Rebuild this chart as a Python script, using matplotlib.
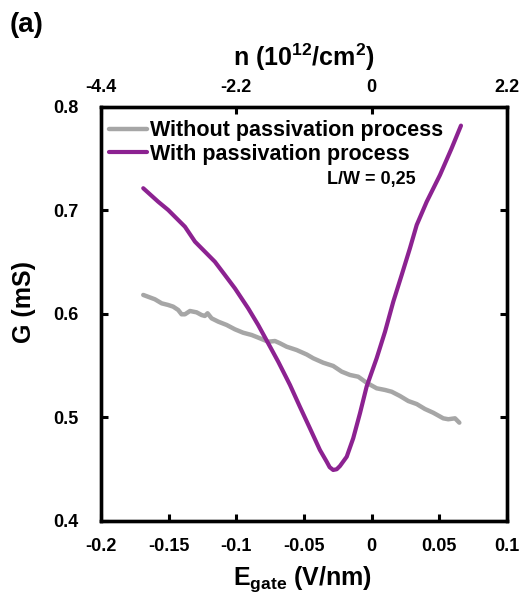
import matplotlib
matplotlib.use("Agg")
import matplotlib.pyplot as plt

plt.rcParams['font.family'] = ['Liberation Sans', 'DejaVu Sans']
plt.rcParams['font.weight'] = 'bold'
plt.rcParams['mathtext.fontset'] = 'custom'
plt.rcParams['mathtext.rm'] = 'Liberation Sans:bold'
plt.rcParams['mathtext.bf'] = 'Liberation Sans:bold'

# Conductance vs gate field, without passivation
e_without = [-0.1687, -0.1601, -0.1551, -0.1503, -0.1466, -0.1429, -0.1404, -0.1379,
             -0.1342, -0.1293, -0.1256, -0.1232, -0.1212, -0.1182, -0.1133, -0.1071,
             -0.1010, -0.0949, -0.0886, -0.0825, -0.0764, -0.0714, -0.0677, -0.0628,
             -0.0554, -0.0480, -0.0431, -0.0357, -0.0284, -0.0221, -0.0160, -0.0099,
             -0.0037, 0.0037, 0.0099, 0.0148, 0.0209, 0.0271, 0.0333, 0.0394,
             0.0455, 0.0529, 0.0566, 0.0616, 0.0648]
g_without = [0.6184, 0.6142, 0.6103, 0.6087, 0.6071, 0.6039, 0.5997, 0.5997,
             0.6029, 0.6016, 0.5990, 0.5981, 0.6007, 0.5958, 0.5926, 0.5894,
             0.5852, 0.5819, 0.5797, 0.5765, 0.5732, 0.5739, 0.5717, 0.5684,
             0.5652, 0.5609, 0.5572, 0.5529, 0.5498, 0.5443, 0.5411, 0.5394,
             0.5336, 0.5282, 0.5266, 0.5249, 0.5208, 0.5159, 0.5130, 0.5082,
             0.5046, 0.4992, 0.4983, 0.4992, 0.4950]

# Conductance vs gate field, with passivation
e_with = [-0.1687, -0.1577, -0.1503, -0.1379, -0.1305, -0.1158, -0.1084, -0.1010,
          -0.0912, -0.0838, -0.0764, -0.0690, -0.0628, -0.0603, -0.0530, -0.0456,
          -0.0382, -0.0332, -0.0310, -0.0284, -0.0258, -0.0234, -0.0184, -0.0136,
          -0.0086, -0.0037, 0.0037, 0.0099, 0.0160, 0.0222, 0.0283, 0.0333,
          0.0407, 0.0505, 0.0591, 0.0660]
g_with = [0.7215, 0.7085, 0.7005, 0.6843, 0.6699, 0.6505, 0.6377, 0.6248,
          0.6055, 0.5894, 0.5717, 0.5539, 0.5379, 0.5314, 0.5104, 0.4896,
          0.4686, 0.4573, 0.4520, 0.4493, 0.4500, 0.4531, 0.4621, 0.4799,
          0.5041, 0.5298, 0.5572, 0.5829, 0.6119, 0.6377, 0.6635, 0.6860,
          0.7085, 0.7343, 0.7601, 0.7820]

x_ticks = [-0.2, -0.15, -0.1, -0.05, 0, 0.05, 0.1]
x_tick_labels = ['-0.2', '-0.15', '-0.1', '-0.05', '0', '0.05', '0.1']
y_ticks = [0.4, 0.5, 0.6, 0.7, 0.8]
y_tick_labels = ['0.4', '0.5', '0.6', '0.7', '0.8']
n_ticks = [-4.4, -2.2, 0, 2.2]
n_tick_labels = ['-4.4', '-2.2', '0', '2.2']
n_per_field = 22.0  # n (1e12/cm^2) per V/nm

fig = plt.figure(figsize=(5.2, 5.94), dpi=100)
ax = fig.add_axes([0.194, 0.1229, 0.781, 0.697])

ax.plot(e_without, g_without, color='#a6a6a6', lw=3.2, label='Without passivation process',
        solid_capstyle='round', solid_joinstyle='round')
ax.plot(e_with, g_with, color='#8c2291', lw=3.0, label='With passivation process',
        solid_capstyle='round', solid_joinstyle='round')

ax.set_xlim(-0.2, 0.1)
ax.set_ylim(0.4, 0.8)
ax.set_xticks(x_ticks)
ax.set_xticklabels(x_tick_labels)
ax.set_yticks(y_ticks)
ax.set_yticklabels(y_tick_labels)
ax.tick_params(axis='x', direction='in', width=2.2, length=5, labelsize=13, pad=12)
ax.tick_params(axis='y', direction='in', width=2.2, length=5, labelsize=13, pad=16,
               right=True)
for s in ax.spines.values():
    s.set_linewidth(2.4)

ax.set_xlabel(r'E$_{\mathregular{gate}}$ (V/nm)', fontsize=18, fontweight='bold')
ax.xaxis.set_label_coords(0.497, -0.105)
ax.set_ylabel('G (mS)', fontsize=18, fontweight='bold', va='center')
ax.yaxis.set_label_coords(-0.19, 0.53)

top = ax.twiny()
top.set_xlim(-0.2 * n_per_field, 0.1 * n_per_field)
top.set_xticks(n_ticks)
top.set_xticklabels(n_tick_labels)
top.tick_params(direction='in', width=2.2, length=5, labelsize=13, pad=8)
top.set_xlabel(r'n (10$^{12}$/cm$^{2}$)', fontsize=18, fontweight='bold')
top.xaxis.set_label_coords(0.5, 1.1)
for s in top.spines.values():
    s.set_linewidth(2.4)

leg = ax.legend(loc='upper left', frameon=False, fontsize=15.5, handlelength=1.75,
                handletextpad=0.15, borderaxespad=0.0, borderpad=0.2, labelspacing=0.1,
                bbox_to_anchor=(0.01, 0.978))
for t in leg.get_texts():
    t.set_fontweight('bold')

ax.text(0.665, 0.826, 'L/W = 0,25', transform=ax.transAxes, fontsize=13,
        fontweight='bold', ha='center', va='center')

fig.text(0.019, 0.958, '(a)', fontsize=20, fontweight='bold', va='center')

fig.savefig('out.png', dpi=100)
